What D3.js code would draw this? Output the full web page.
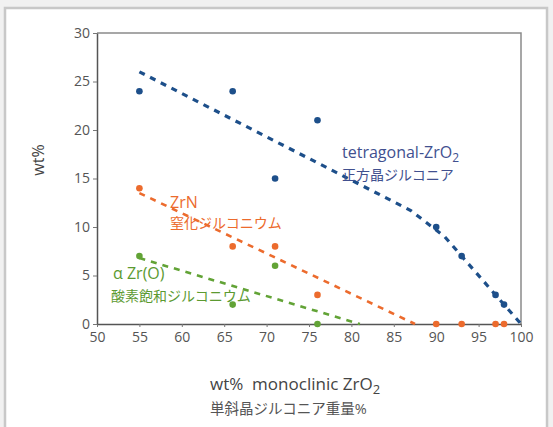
<!DOCTYPE html>
<html>
<head>
<meta charset="utf-8">
<script src="https://cdn.jsdelivr.net/npm/d3@7"></script>
<style>
  body { margin: 0; background: #f1f1f1; }
  text { font-family: "Open Sans", "Noto Sans CJK JP", sans-serif; }
</style>
</head>
<body>
<svg id="chart" width="553" height="427"></svg>
<script>
// tick values
var xTicks = [50, 55, 60, 65, 70, 75, 80, 85, 90, 95, 100];
var yTicks = [0, 5, 10, 15, 20, 25, 30];

// tetragonal ZrO2
var tetraX = [55, 66, 71, 76, 90, 93, 97, 98];
var tetraY = [24, 24, 15, 21, 10, 7, 3, 2];
var tetraTrendX = [55, 87, 91, 100];
var tetraTrendY = [26, 11.7, 9, 0];

// ZrN
var zrnX = [55, 66, 71, 76, 90, 93, 97, 98];
var zrnY = [14, 8, 8, 3, 0, 0, 0, 0];
var zrnTrendX = [55, 87.5];
var zrnTrendY = [13.5, 0];

// alpha Zr(O)
var alphaX = [55, 66, 71, 76];
var alphaY = [7, 2, 6, 0];
var alphaTrendX = [55, 81];
var alphaTrendY = [6.8, 0];

var svg = d3.select("#chart");

// white panel
svg.append("rect")
  .attr("x", 5).attr("y", 8)
  .attr("width", 542).attr("height", 440)
  .attr("fill", "#ffffff")
  .attr("stroke", "#c8c8c8")
  .attr("stroke-width", 2.5);

var xScale = d3.scaleLinear().domain([50, 100]).range([97, 521]);
var yScale = d3.scaleLinear().domain([0, 30]).range([324, 33]);

// frame top / right
svg.append("path")
  .attr("d", "M" + xScale(50) + "," + yScale(30) + "H" + xScale(100) + "V" + yScale(0))
  .attr("fill", "none")
  .attr("stroke", "#8a8a8a")
  .attr("stroke-width", 1.5);

var xAxis = d3.axisBottom(xScale).tickValues(xTicks).tickSize(3).tickSizeOuter(0).tickPadding(5);
var yAxis = d3.axisLeft(yScale).tickValues(yTicks).tickSize(4).tickSizeOuter(0).tickPadding(3);

var gx = svg.append("g")
  .attr("transform", "translate(0," + yScale(0) + ")")
  .call(xAxis);
var gy = svg.append("g")
  .attr("transform", "translate(" + xScale(50) + ",0)")
  .call(yAxis);

[gx, gy].forEach(function (g) {
  g.select(".domain").attr("stroke", "#555").attr("stroke-width", 1.5);
  g.selectAll(".tick line").attr("stroke", "#777");
  g.selectAll(".tick text")
    .attr("fill", "#555")
    .style("font-size", "14px");
});

var line = d3.line()
  .x(function (d) { return xScale(d[0]); })
  .y(function (d) { return yScale(d[1]); });

function series(xs, ys, tx, ty, color, width) {
  var trend = d3.zip(tx, ty);
  svg.append("path")
    .datum(trend)
    .attr("d", line)
    .attr("fill", "none")
    .attr("stroke", color)
    .attr("stroke-width", width)
    .attr("stroke-dasharray", "6,6");
  svg.append("g")
    .selectAll("circle")
    .data(d3.zip(xs, ys))
    .enter()
    .append("circle")
    .attr("cx", function (d) { return xScale(d[0]); })
    .attr("cy", function (d) { return yScale(d[1]); })
    .attr("r", 3.3)
    .attr("fill", color);
}

series(alphaX, alphaY, alphaTrendX, alphaTrendY, "#62a336", 2.6);
series(zrnX, zrnY, zrnTrendX, zrnTrendY, "#ec6b2d", 2.6);
series(tetraX, tetraY, tetraTrendX, tetraTrendY, "#1d4f8a", 3.2);

// annotations
function label(x, y, txt, color, size) {
  return svg.append("text")
    .attr("x", x).attr("y", y)
    .attr("fill", color)
    .style("font-size", size + "px")
    .text(txt);
}

var t1 = label(342, 158, "tetragonal-ZrO", "#41508f", 16);
t1.append("tspan").attr("dy", 4).style("font-size", "12px").text("2");
label(342, 180, "正方晶ジルコニア", "#41508f", 14);

label(170, 208, "ZrN", "#ec6b2d", 16);
label(170, 228, "窒化ジルコニウム", "#ec6b2d", 14);

label(113, 279, "α Zr(O)", "#5c9a31", 16);
label(111, 301, "酸素飽和ジルコニウム", "#5c9a31", 14);

// axis titles
svg.append("text")
  .attr("transform", "translate(44,160) rotate(-90)")
  .attr("text-anchor", "middle")
  .attr("fill", "#444")
  .style("font-size", "16px")
  .text("wt%");

var xt = svg.append("text")
  .attr("x", 210).attr("y", 390)
  .attr("fill", "#444")
  .style("font-size", "17px")
  .attr("xml:space", "preserve")
  .text("wt%  monoclinic ZrO");
xt.append("tspan").attr("dy", 4).style("font-size", "13px").text("2");

svg.append("text")
  .attr("x", 210).attr("y", 414)
  .attr("fill", "#555")
  .style("font-size", "14.5px")
  .text("単斜晶ジルコニア重量%");
</script>
</body>
</html>
